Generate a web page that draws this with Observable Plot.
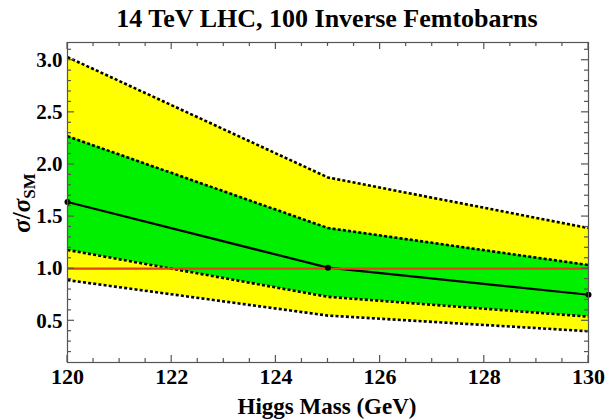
<!DOCTYPE html>
<html><head><meta charset="utf-8">
<script src="https://cdn.jsdelivr.net/npm/d3@7"></script>
<script src="https://cdn.jsdelivr.net/npm/@observablehq/plot@0.6"></script>
<style>body{margin:0;background:#fff}</style>
</head><body><div id="chart"></div>
<script>
const masses = [120, 125, 130];
const yellowUpper = [3.03, 1.875, 1.39];
const greenUpper = [2.27, 1.39, 1.035];
const median = [1.64, 1.01, 0.75];
const greenLower = [1.18, 0.73, 0.54];
const yellowLower = [0.89, 0.55, 0.40];
const xTicks = [120, 122, 124, 126, 128, 130];
const yTicks = [0.5, 1.0, 1.5, 2.0, 2.5, 3.0];
const smLine = [1];

const rows = masses.map((m, i) => ({m, yu: yellowUpper[i], gu: greenUpper[i], md: median[i], gl: greenLower[i], yl: yellowLower[i]}));
const xMinor = d3.range(120, 130.01, 0.5);
const yMinor = d3.range(0.2, 3.11, 0.1).map(v => +v.toFixed(1));
const font = "'Liberation Serif', 'Times New Roman', serif";
const dash = {strokeDasharray: "3,2.2", strokeWidth: 2.6, stroke: "black", strokeLinecap: "butt"};

const plot = Plot.plot({
  width: 608, height: 420,
  marginLeft: 67, marginRight: 20, marginTop: 42, marginBottom: 58,
  style: {fontFamily: font, fontSize: "21px", fontWeight: "bold", color: "black", background: "white"},
  x: {domain: [120, 130]},
  y: {domain: [0.1, 3.17]},
  marks: [
    Plot.areaY(rows, {x: "m", y1: "yl", y2: "yu", fill: "#ffff00"}),
    Plot.areaY(rows, {x: "m", y1: "gl", y2: "gu", fill: "#00f000"}),
    Plot.lineY(rows, {x: "m", y: "yu", ...dash}),
    Plot.lineY(rows, {x: "m", y: "gu", ...dash}),
    Plot.lineY(rows, {x: "m", y: "gl", ...dash}),
    Plot.lineY(rows, {x: "m", y: "yl", ...dash}),
    Plot.lineY(rows, {x: "m", y: "md", stroke: "black", strokeWidth: 2.2}),
    Plot.ruleY(smLine, {stroke: "#e5401c", strokeWidth: 2.2}),
    Plot.dot(rows, {x: "m", y: "md", r: 3, fill: "black"}),
    Plot.frame({stroke: "#555", strokeWidth: 1.2}),
    Plot.axisX({ticks: xTicks, tickSize: 0, tickPadding: 6, label: null, tickFormat: d => d, fontSize: 22}),
    Plot.axisY({ticks: yTicks, tickSize: 0, tickPadding: 5, label: null, tickFormat: d => d.toFixed(1), fontSize: 21})
  ]
});
document.getElementById("chart").appendChild(plot);
const svg = d3.select(plot);
const sx = plot.scale("x"), sy = plot.scale("y");
const [x0, x1] = sx.range, [y0, y1] = sy.range;
const tg = svg.append("g").attr("stroke", "#555").attr("stroke-width", 1.2);
const isMajor = (v, list) => list.some(t => Math.abs(t - v) < 1e-6);
for (const v of xMinor) {
  const x = sx.apply(v), len = isMajor(v, xTicks) ? 7 : 4;
  tg.append("line").attr("x1", x).attr("x2", x).attr("y1", y0).attr("y2", y0 - len);
  tg.append("line").attr("x1", x).attr("x2", x).attr("y1", y1).attr("y2", y1 + len);
}
for (const v of yMinor) {
  const y = sy.apply(v), len = isMajor(v, yTicks) ? 7 : 4;
  tg.append("line").attr("x1", x0).attr("x2", x0 + len).attr("y1", y).attr("y2", y);
  tg.append("line").attr("x1", x1).attr("x2", x1 - len).attr("y1", y).attr("y2", y);
}
svg.append("text").attr("x", 327).attr("y", 27).attr("text-anchor", "middle")
  .attr("font-family", font).attr("font-weight", "bold").attr("font-size", 26)
  .text("14 TeV LHC, 100 Inverse Femtobarns");
svg.append("text").attr("x", 327).attr("y", 414).attr("text-anchor", "middle")
  .attr("font-family", font).attr("font-weight", "bold").attr("font-size", 23)
  .text("Higgs Mass (GeV)");
const yl = svg.append("text").attr("transform", "translate(30,203) rotate(-90)").attr("text-anchor", "middle")
  .attr("font-family", font).attr("font-weight", "bold").attr("font-size", 25);
yl.append("tspan").attr("font-style", "italic").text("σ");
yl.append("tspan").text("/");
yl.append("tspan").attr("font-style", "italic").text("σ");
yl.append("tspan").attr("font-size", 17).attr("dy", 5).text("SM");
</script></body></html>
